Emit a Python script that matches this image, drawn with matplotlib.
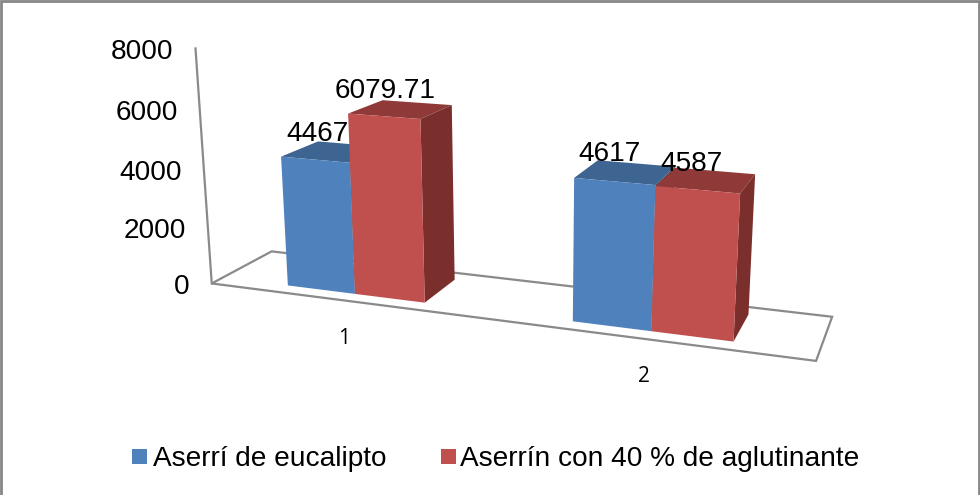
import numpy as np
import matplotlib
matplotlib.use("Agg")
import matplotlib.pyplot as plt
from matplotlib.patches import Polygon, Rectangle

plt.rcParams['font.family'] = ['Liberation Sans', 'DejaVu Sans']

categories = ['1', '2']
series_names = ['Aserrí de eucalipto', 'Aserrín con 40 % de aglutinante']
eucalipto = [4467, 4617]
aglutinante = [6079.71, 4587]
value_labels = [['4467', '4617'], ['6079.71', '4587']]
y_ticks = [0, 2000, 4000, 6000, 8000]
y_max = 8000

FRONT = ['#4F81BD', '#C0504D']
TOP = ['#3E6591', '#8F3A38']
SIDE = ['#345377', '#7B2F2D']
GRID = '#8A8A8A'
TEXT_SIZE = 20.2

BAR_W = 0.25
Z0, Z1 = .18, .82

# Camera calibration: (category x, value, depth) -> picture pixel
cal_model = np.array([
    (0, 0, 0), (0, 0, 1), (2, 0, 0), (2, 0, 1), (0, 8000, 0),
    (.25, 4467, Z0), (.5, 4467, Z0), (.25, 4467, Z1), (.25, 0, Z0), (.5, 0, Z0),
    (.5, 6079.71, Z0), (.75, 6079.71, Z0), (.5, 6079.71, Z1), (.75, 6079.71, Z1),
    (.75, 0, Z0), (.75, 0, Z1),
    (1.25, 4617, Z0), (1.5, 4617, Z0), (1.25, 4617, Z1), (1.5, 4617, Z1),
    (1.25, 0, Z0), (1.5, 0, Z0),
    (1.75, 4587, Z0), (1.75, 4587, Z1), (1.75, 0, Z0), (1.75, 0, Z1),
], float)
cal_pixel = np.array([
    (211.7, 283.3), (271.7, 251), (815.7, 361), (832.7, 316.7), (195, 48.3),
    (281.7, 157.3), (350, 162.7), (318, 141.7), (288, 285.7), (355, 294),
    (348.3, 113.3), (420.7, 118.3), (382.7, 100), (451.7, 105),
    (424, 302.3), (454.3, 280),
    (575, 178.3), (655.7, 186), (599.3, 160.7), (671.7, 167.3),
    (572.7, 321), (651.7, 331.7),
    (740, 192.3), (755.7, 174), (733.3, 341.7), (749, 314),
], float)


def fit_camera(model, pixel):
    m = model.copy()
    m[:, 1] /= y_max
    rows, rhs = [], []
    for (x, v, z), (u, w) in zip(m, pixel):
        rows.append([x, v, z, 1, 0, 0, 0, 0, -u * x, -u * v, -u * z])
        rows.append([0, 0, 0, 0, x, v, z, 1, -w * x, -w * v, -w * z])
        rhs += [u, w]
    p = np.linalg.lstsq(np.array(rows), np.array(rhs), rcond=None)[0]
    return np.append(p, 1).reshape(3, 4)


CAM = fit_camera(cal_model, cal_pixel)


def project(x, v, z):
    h = CAM @ np.array([x, v / y_max, z, 1.0])
    return h[0] / h[2], h[1] / h[2]


fig = plt.figure(figsize=(9.8, 4.95), dpi=100, facecolor='white')
ax = fig.add_axes([0, 0, 1, 1])
ax.set_xlim(0, 980)
ax.set_ylim(495, 0)
ax.axis('off')

# outer frame (open at the bottom)
ax.plot([1, 1, 978.5, 978.5], [495, 1, 1, 495], color='#868686', lw=2, solid_joinstyle='miter')

# floor and value axis
floor = [project(0, 0, 0), project(2, 0, 0), project(2, 0, 1), project(0, 0, 1)]
ax.add_patch(Polygon(floor, closed=True, fill=False, edgecolor=GRID, lw=1.6, zorder=1))
ax.plot(*zip(project(0, 0, 0), project(0, y_max, 0)), color=GRID, lw=1.6, zorder=1)

for t in y_ticks:
    px, py = project(0, t, 0)
    ax.text(px - 22, py + 4, str(t), ha='right', va='center', fontsize=TEXT_SIZE, color='black', zorder=5)

z = 2
label_offsets = [[(-1, -7), (12, -6)], [(2, -9), (17, -4)]]
cat_offsets = [(-1, 38), (-2, 37)]
for c, cat in enumerate(categories):
    for s, vals in enumerate([eucalipto, aglutinante]):
        x0 = c + 1 / 2 + (s - 1) * BAR_W
        x1 = x0 + BAR_W
        v = vals[c]
        ax.add_patch(Polygon([project(x0, v, Z0), project(x1, v, Z0), project(x1, v, Z1), project(x0, v, Z1)],
                             closed=True, fc=TOP[s], ec='none', zorder=z))
        ax.add_patch(Polygon([project(x1, v, Z0), project(x1, 0, Z0), project(x1, 0, Z1), project(x1, v, Z1)],
                             closed=True, fc=SIDE[s], ec='none', zorder=z))
        ax.add_patch(Polygon([project(x0, v, Z0), project(x1, v, Z0), project(x1, 0, Z0), project(x0, 0, Z0)],
                             closed=True, fc=FRONT[s], ec='none', zorder=z + 0.5))
        z += 1
    px, py = project(c + .5, 0, 0)
    ax.text(px + cat_offsets[c][0], py + cat_offsets[c][1], cat, ha='center', va='center',
            fontsize=15, family=['Open Sans', 'DejaVu Sans'], color='black', zorder=9)

for s, vals in enumerate([eucalipto, aglutinante]):
    for c, v in enumerate(vals):
        x0 = c + 1 / 2 + (s - 1) * BAR_W
        px, py = project(x0, v, Z1)
        dx, dy = label_offsets[s][c]
        ax.text(px + dx, py + dy, value_labels[s][c], ha='center', va='center',
                fontsize=TEXT_SIZE, color='black', zorder=20)

# legend
for s, (bx, tx) in enumerate([(132, 153), (441, 460)]):
    ax.add_patch(Rectangle((bx, 449), 15, 15, fc=FRONT[s], ec='none'))
    ax.text(tx, 459, series_names[s], ha='left', va='center', fontsize=TEXT_SIZE, color='black')

fig.savefig('out.png', dpi=100, facecolor='white')
